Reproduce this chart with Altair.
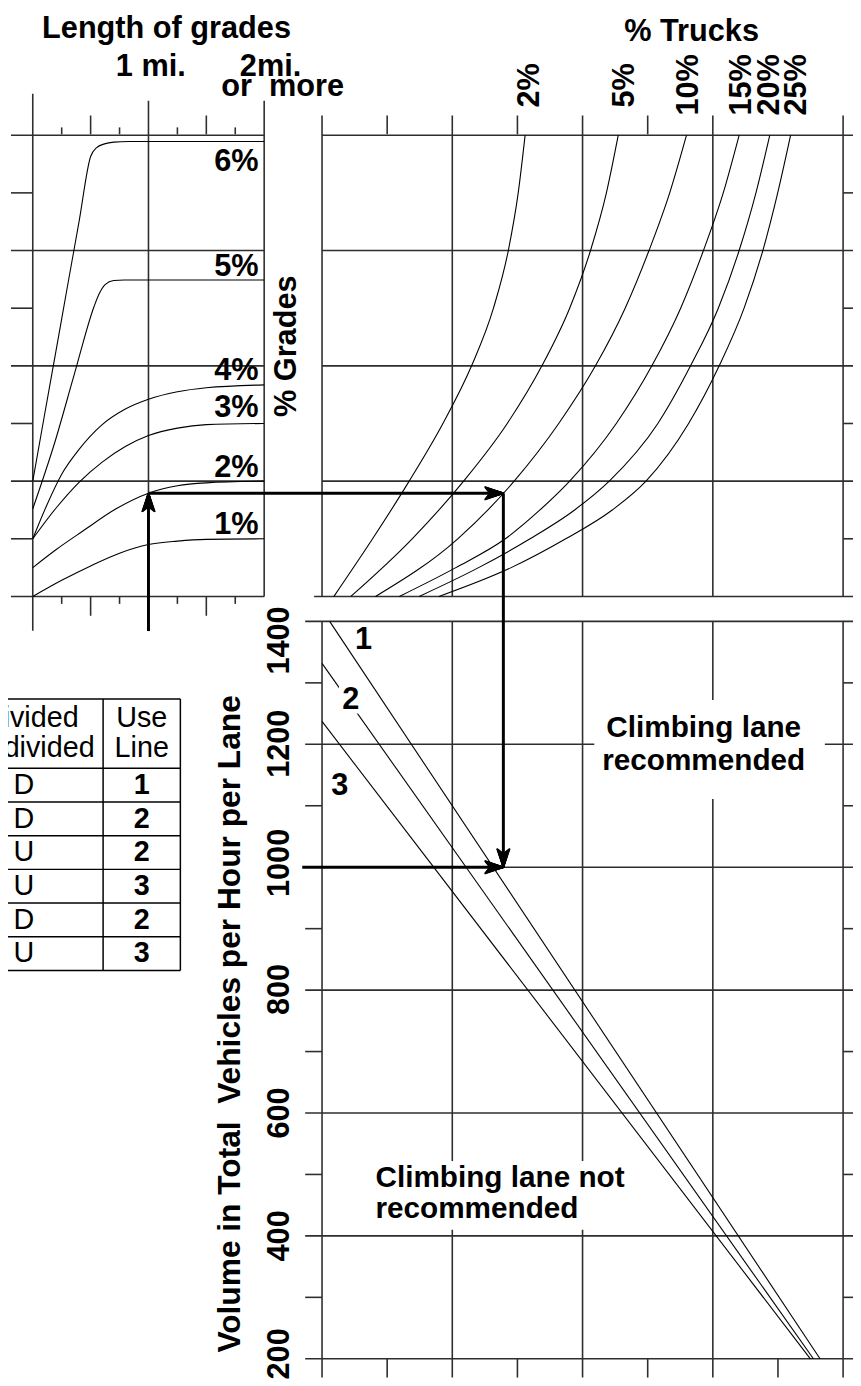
import altair as alt
import pandas as pd

# ---------------------------------------------------------------- data
# Left panel: length of grade (miles) vs. grade-effect index (0..8)
grade_names = ["1%", "2%", "3%", "4%", "5%", "6%"]
g1_mi = [0, 0.25, 0.5, 0.75, 1.0, 1.25, 1.5, 2.0]
g1_g = [0, 0.28, 0.53, 0.75, 0.90, 0.96, 0.99, 1.0]
g2_mi = [0, 0.2, 0.43, 0.72, 1.0, 1.25, 1.5, 2.0]
g2_g = [0.5, 0.81, 1.13, 1.52, 1.79, 1.92, 1.97, 2.0]
g3_mi = [0, 0.2, 0.4, 0.6, 0.8, 1.0, 1.25, 1.5, 2.0]
g3_g = [1.0, 1.53, 1.98, 2.33, 2.60, 2.79, 2.92, 2.98, 3.0]
g4_mi = [0, 0.125, 0.25, 0.4, 0.6, 0.8, 1.0, 1.25, 1.5, 2.0]
g4_g = [1.0, 1.6, 2.12, 2.55, 2.98, 3.25, 3.42, 3.55, 3.62, 3.67]
g5_mi = [0, 0.19, 0.36, 0.53, 0.574, 0.625, 0.70, 0.79, 0.92, 2.0]
g5_g = [1.52, 2.67, 3.86, 5.03, 5.25, 5.41, 5.48, 5.49, 5.49, 5.49]
g6_mi = [0, 0.1, 0.2, 0.3, 0.4, 0.5, 0.55, 0.62, 0.7, 0.83, 2.0]
g6_g = [2.0, 3.13, 4.25, 5.38, 6.50, 7.63, 7.78, 7.85, 7.88, 7.89, 7.89]
grade_label_mi = 1.952
grade_label_g = [1.09, 2.08, 3.11, 3.76, 5.56, 7.38]

# Upper right panel: % trucks curves (t = horizontal units 0..4, g = grade index 0..8)
truck_names = ["2%", "5%", "10%", "15%", "20%", "25%"]
tr_g9 = [0, 1, 2, 3, 4, 5, 6, 7, 8]
tr_g11 = [0, 0.5, 1, 1.5, 2, 3, 4, 5, 6, 7, 8]
tr2_t = [0.091, 0.388, 0.669, 0.928, 1.148, 1.316, 1.430, 1.506, 1.559]
tr5_t = [0.221, 0.692, 1.087, 1.422, 1.688, 1.901, 2.061, 2.183, 2.274]
tr10_t = [0.411, 1.042, 1.475, 1.817, 2.099, 2.327, 2.510, 2.669, 2.798]
tr15_t = [0.593, 1.027, 1.407, 1.673, 1.901, 2.259, 2.532, 2.753, 2.928, 3.080, 3.202]
tr20_t = [0.745, 1.202, 1.597, 1.939, 2.205, 2.578, 2.829, 3.042, 3.202, 3.331, 3.437]
tr25_t = [0.897, 1.452, 1.871, 2.228, 2.487, 2.814, 3.049, 3.240, 3.384, 3.498, 3.597]
truck_label_t = [1.597, 2.323, 2.817, 3.224, 3.437, 3.650]
truck_label_g = [8.48, 8.48, 8.34, 8.34, 8.34, 8.34]

# Lower panel: volume lines 1, 2, 3 (t units vs vehicles/hour/lane)
line_names = ["1", "2", "3"]
ln1_t = [0.0586, 3.823]
ln1_v = [1400, 200]
ln2_t = [0.0, 3.772]
ln2_v = [1331.8, 200]
ln3_t = [0.0, 3.749]
ln3_v = [1237.2, 200]
line_label_t = [0.319, 0.221, 0.137]
line_label_v = [1369, 1272, 1132]

volume_ticks = [1400, 1300, 1200, 1100, 1000, 900, 800, 700, 600, 500, 400, 300, 200]
volume_labels = ["1400", "1200", "1000", "800", "600", "400", "200"]
volume_label_v = [1369, 1201, 1007, 801, 600, 400, 208]

# Table
tbl_divided = ["D", "D", "U", "U", "D", "U"]
tbl_line = ["1", "2", "2", "3", "2", "3"]

# Worked example: 1 mi, 2% grade, 10% trucks -> 1000 veh/h/lane
ex_mi = 1.0
ex_g = 1.79
ex_t = 1.392
ex_vol = 1000

# ---------------------------------------------------------------- layout (page pixels)
FONT = "Liberation Sans"
FS = 31
LX = lambda f: f"(33 + datum.{f} * 116.8)"               # miles -> px
GY = lambda f: f"(595.5 - datum.{f} * 58.2)"             # grade index -> px
TX = lambda f: f"(325 + datum.{f} * 131.5)"              # t units -> px
VY = lambda f: f"(620.7 + (1400 - datum.{f}) * 0.6203)"  # volume -> px

XS = alt.Scale(domain=[8, 861])
YS = alt.Scale(domain=[1386, 8])
GRID = "#2e2e2e"


def enc(ch, rule=False, **kw):
    e = dict(x=alt.X("px:Q", scale=XS, axis=None),
             y=alt.Y("py:Q", scale=YS, axis=None))
    if rule:
        e["x2"] = alt.X2("px2:Q")
        e["y2"] = alt.Y2("py2:Q")
    e.update(kw)
    return ch.encode(**e)


def rules(rows, calc, color=GRID, width=1.6):
    ch = alt.Chart(pd.DataFrame(rows)).mark_rule(color=color, strokeWidth=width)
    return enc(ch.transform_calculate(**calc), rule=True)


layers = []

# ---- left panel frame
mile_lines = [dict(mi=0, a=88, b=630), dict(mi=1, a=95, b=630), dict(mi=2, a=95, b=595.5)]
mile_half = [dict(mi=m, a=110, b=129) for m in (0.5, 1.5)] + [dict(mi=m, a=595.5, b=615) for m in (0.5, 1.5)]
mile_q = [dict(mi=m, a=122, b=129) for m in (0.25, 0.75, 1.25, 1.75)] + \
         [dict(mi=m, a=595.5, b=603) for m in (0.25, 0.75, 1.25, 1.75)]
layers.append(rules(mile_lines + mile_half + mile_q,
                    dict(px=LX("mi"), px2=LX("mi"), py="datum.a", py2="datum.b")))
gl_rows = [dict(g=g, a=11, b=266.7) for g in (0, 2, 4, 6, 8)] + [dict(g=g, a=11, b=33) for g in (1, 3, 5, 7)]
layers.append(rules(gl_rows, dict(px="datum.a", px2="datum.b", py=GY("g"), py2=GY("g"))))

# ---- upper right frame
tv_rows = [dict(t=t, a=110, b=596) for t in (0, 1, 2, 3, 4)] + [dict(t=t, a=110, b=129) for t in (0.5, 1.5, 2.5)]
layers.append(rules(tv_rows, dict(px=TX("t"), px2=TX("t"), py="datum.a", py2="datum.b")))
th_rows = [dict(g=g, a=325, b=861) for g in (2, 4, 6, 8)] + [dict(g=0, a=317, b=861)] + \
          [dict(g=g, a=851, b=861) for g in (1, 3, 5, 7)]
layers.append(rules(th_rows, dict(px="datum.a", px2="datum.b", py=GY("g"), py2=GY("g"))))

# ---- lower frame
bv_rows = [dict(t=t, a=620.7, b=1384) for t in (0, 1, 2, 3, 4)] + [dict(t=t, a=1365, b=1384) for t in (0.5, 1.5, 2.5, 3.5)]
layers.append(rules(bv_rows, dict(px=TX("t"), px2=TX("t"), py="datum.a", py2="datum.b")))
bh_rows = []
for v in volume_ticks:
    if v % 200 == 0:
        bh_rows.append(dict(vol=v, a=308, b=861))
    else:
        bh_rows.append(dict(vol=v, a=308, b=325))
        bh_rows.append(dict(vol=v, a=851, b=861))
layers.append(rules(bh_rows, dict(px="datum.a", px2="datum.b", py=VY("vol"), py2=VY("vol"))))

# ---- white boxes behind notes
boxes = [dict(t1=2.09, t2=3.86, v1=1272, v2=1111), dict(t1=0.357, t2=2.456, v1=522, v2=410),
         dict(t1=0.13, t2=0.33, v1=1295, v2=1250)]
layers.append(enc(alt.Chart(pd.DataFrame(boxes)).mark_rect(color="white")
                  .transform_calculate(px=TX("t1"), px2=TX("t2"), py=VY("v1"), py2=VY("v2")), rule=True))

# ---- curves
rows = []
for name, ms, gs in zip(grade_names, [g1_mi, g2_mi, g3_mi, g4_mi, g5_mi, g6_mi],
                        [g1_g, g2_g, g3_g, g4_g, g5_g, g6_g]):
    rows += [dict(s=name, mi=m, g=g, o=i) for i, (m, g) in enumerate(zip(ms, gs))]
layers.append(enc(alt.Chart(pd.DataFrame(rows)).mark_line(color="black", strokeWidth=1.1, interpolate="monotone")
                  .transform_calculate(px=LX("mi"), py=GY("g")), detail="s:N", order="o:Q"))

rows = []
for name, ts, gs in zip(truck_names, [tr2_t, tr5_t, tr10_t, tr15_t, tr20_t, tr25_t],
                        [tr_g9, tr_g9, tr_g9, tr_g11, tr_g11, tr_g11]):
    rows += [dict(s=name, t=t, g=g, o=i) for i, (t, g) in enumerate(zip(ts, gs))]
layers.append(enc(alt.Chart(pd.DataFrame(rows)).mark_line(color="black", strokeWidth=1.1, interpolate="monotone")
                  .transform_calculate(px=TX("t"), py=GY("g")), detail="s:N", order="o:Q"))

rows = []
for name, ts, vs in zip(line_names, [ln1_t, ln2_t, ln3_t], [ln1_v, ln2_v, ln3_v]):
    rows += [dict(s=name, t=t, vol=v, o=i) for i, (t, v) in enumerate(zip(ts, vs))]
layers.append(enc(alt.Chart(pd.DataFrame(rows)).mark_line(color="black", strokeWidth=1.1)
                  .transform_calculate(px=TX("t"), py=VY("vol")), detail="s:N", order="o:Q"))
# re-cover line 2 under its label
layers.append(enc(alt.Chart(pd.DataFrame([boxes[2]])).mark_rect(color="white")
                  .transform_calculate(px=TX("t1"), px2=TX("t2"), py=VY("v1"), py2=VY("v2")), rule=True))

# ---- worked example arrows
ex = pd.DataFrame([dict(mi=ex_mi, g=ex_g, t=ex_t, vol=ex_vol, lo=-0.6, t0=-0.152)])
AW = 3
layers.append(enc(alt.Chart(ex).mark_rule(color="black", strokeWidth=AW)
                  .transform_calculate(px=LX("mi"), px2=LX("mi"), py=GY("lo"), py2=GY("g") + " + 10"), rule=True))
layers.append(enc(alt.Chart(ex).mark_rule(color="black", strokeWidth=AW)
                  .transform_calculate(px=LX("mi"), px2=TX("t") + " - 10", py=GY("g"), py2=GY("g")), rule=True))
layers.append(enc(alt.Chart(ex).mark_rule(color="black", strokeWidth=AW)
                  .transform_calculate(px=TX("t"), px2=TX("t"), py=GY("g"), py2=VY("vol") + " - 10"), rule=True))
layers.append(enc(alt.Chart(ex).mark_rule(color="black", strokeWidth=AW)
                  .transform_calculate(px=TX("t0"), px2=TX("t") + " - 10", py=VY("vol"), py2=VY("vol")), rule=True))

# arrowheads: barbed heads filled by a fan of short strokes from the tip (length L, half width W, notch N)
L, W, N = 19, 6.5, 5
heads = pd.DataFrame([dict(k=k / 20, mi=ex_mi, g=ex_g, t=ex_t, vol=ex_vol) for k in range(-20, 21)])
base = f"{L} - {N} * (1 - abs(datum.k))"
fans = [
    dict(px=LX("mi"), py=GY("g"), px2=f"{LX('mi')} + datum.k * {W}", py2=f"{GY('g')} + {base}"),
    dict(px=TX("t"), py=GY("g"), px2=f"{TX('t')} - ({base})", py2=f"{GY('g')} + datum.k * {W}"),
    dict(px=TX("t"), py=VY("vol"), px2=f"{TX('t')} + datum.k * {W}", py2=f"{VY('vol')} - ({base})"),
    dict(px=TX("t"), py=VY("vol"), px2=f"{TX('t')} - ({base})", py2=f"{VY('vol')} + datum.k * {W}"),
]
for calc in fans:
    layers.append(enc(alt.Chart(heads).mark_rule(color="black", strokeWidth=1.6).transform_calculate(**calc),
                      rule=True))


# ---- texts
def text(rows, calc, size=FS, weight="bold", align="center", baseline="alphabetic", angle=0):
    ch = alt.Chart(pd.DataFrame(rows)).mark_text(font=FONT, fontSize=size, fontWeight=weight, align=align,
                                                 baseline=baseline, angle=angle, color="black")
    return enc(ch.transform_calculate(**calc), text="txt:N")


layers.append(text([dict(txt="Length of grades", mi=1.156, g=9.68),
                    dict(txt="1 mi.", mi=1.02, g=9.03),
                    dict(txt="2mi.", mi=2.055, g=9.03),
                    dict(txt="or\u00a0\u00a0more", mi=2.16, g=8.68)],
                   dict(px=LX("mi"), py=GY("g"))))
layers.append(text([dict(txt=n, mi=grade_label_mi, g=g) for n, g in zip(grade_names, grade_label_g)],
                   dict(px=LX("mi"), py=GY("g")), align="right"))
layers.append(text([dict(txt="% Grades", mi=2.20, g=4.34)], dict(px=LX("mi"), py=GY("g")),
                   baseline="middle", angle=270))
layers.append(text([dict(txt="% Trucks", t=2.837, g=9.63)], dict(px=TX("t"), py=GY("g"))))
layers.append(text([dict(txt=n, t=t, g=g) for n, t, g in zip(truck_names, truck_label_t, truck_label_g)],
                   dict(px=TX("t"), py=GY("g")), align="left", baseline="middle", angle=270))
layers.append(text([dict(txt=n, t=t, vol=v) for n, t, v in zip(line_names, line_label_t, line_label_v)],
                   dict(px=TX("t"), py=VY("vol")), baseline="middle"))
layers.append(text([dict(txt=n, t=-0.323, vol=v) for n, v in zip(volume_labels, volume_label_v)],
                   dict(px=TX("t"), py=VY("vol")), baseline="middle", angle=270))
layers.append(text([dict(txt="Volume in Total\u00a0\u00a0Vehicles per Hour per Lane", t=-0.707, vol=745)],
                   dict(px=TX("t"), py=VY("vol")), baseline="middle", angle=270, size=32))
layers.append(text([dict(txt="Climbing lane", t=2.93, vol=1212), dict(txt="recommended", t=2.93, vol=1159)],
                   dict(px=TX("t"), py=VY("vol")), size=30))
layers.append(text([dict(txt="Climbing lane not", t=0.41, vol=479), dict(txt="recommended", t=0.41, vol=429)],
                   dict(px=TX("t"), py=VY("vol")), align="left", size=30))

# ---- table (row -1 = top of header)
TOP, HEAD, ROW = 699, 769, 34
trows = [dict(r=-1)] + [dict(r=i) for i in range(len(tbl_divided) + 1)]
layers.append(rules(trows, dict(px="0", px2="182",
                                py=f"datum.r < 0 ? {TOP} : {HEAD} + datum.r * {ROW}",
                                py2=f"datum.r < 0 ? {TOP} : {HEAD} + datum.r * {ROW}"), color="black", width=1.5))
layers.append(rules([dict(c=104), dict(c=182)],
                    dict(px="datum.c", px2="datum.c", py=str(TOP), py2=f"{HEAD} + {len(tbl_divided)} * {ROW}"),
                    color="black", width=1.5))
layers.append(text([dict(txt="Divided", x=31, y=727), dict(txt="Undivided", x=31, y=758),
                    dict(txt="Use", x=143, y=727), dict(txt="Line", x=143, y=758)],
                   dict(px="datum.x", py="datum.y"), weight="normal", size=29))
drows = [dict(txt=d, r=i) for i, d in enumerate(tbl_divided)]
layers.append(text(drows, dict(px="24", py=f"{HEAD} + (datum.r + 0.5) * {ROW}"), weight="normal",
                   baseline="middle", size=29))
lrows = [dict(txt=d, r=i) for i, d in enumerate(tbl_line)]
layers.append(text(lrows, dict(px="143", py=f"{HEAD} + (datum.r + 0.5) * {ROW}"), baseline="middle", size=29))

chart = alt.layer(*layers).properties(
    width=853, height=1378, autosize=alt.AutoSizeParams(type="none"), padding=0
).configure_view(stroke=None)

chart.save("out.html", embed_options={"renderer": "svg", "actions": False})
